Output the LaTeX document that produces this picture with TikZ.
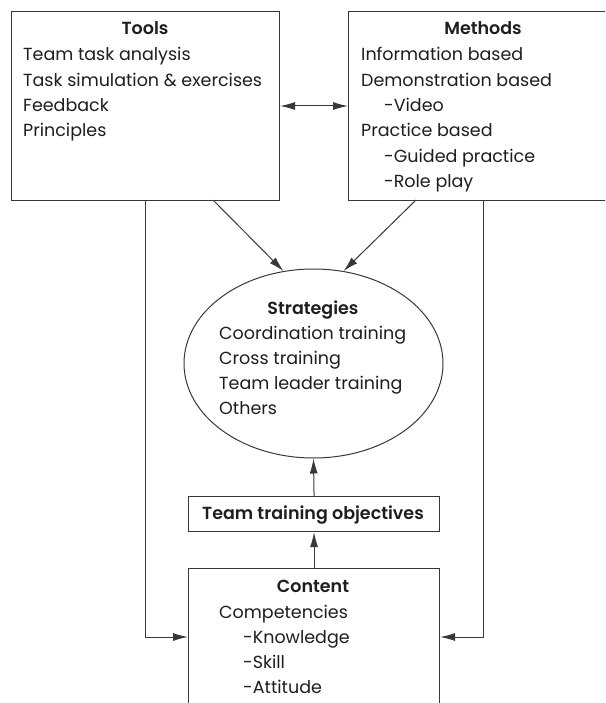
\documentclass[tikz,border=0pt]{standalone}
\usepackage{fontspec}
\setmainfont{Poppins}[BoldFont={Poppins SemiBold}]
\usetikzlibrary{arrows.meta,shapes.geometric}
\definecolor{ln}{HTML}{383838}
\definecolor{tx}{HTML}{1E1E1E}
\tikzset{
  boxshape/.style={draw=ln, line width=1.1pt, inner sep=0pt, rectangle},
  txt/.style={inner sep=0pt, anchor=base west, text=tx, font=\fontsize{17.5}{25}\selectfont},
  ttl/.style={inner sep=0pt, anchor=base, text=tx, font=\fontsize{17.5}{25}\selectfont\bfseries},
  conn/.style={draw=ln, line width=1pt, -{Latex[length=15pt,width=8pt]}},
  dconn/.style={draw=ln, line width=1pt, {Latex[length=15pt,width=8pt]}-{Latex[length=15pt,width=8pt]}},
}
\begin{document}
\begin{tikzpicture}[x=1pt,y=-1pt]
\clip (0,0) rectangle (605,703);
\fill[white] (0,0) rectangle (605,703);

% boxes
\node[boxshape, minimum width=268pt, minimum height=189pt, anchor=north west] (tools) at (11,11) {};
\node[boxshape, minimum width=270pt, minimum height=189pt, anchor=north west] (methods) at (348,11) {};
\node[draw=ln, line width=1pt, ellipse, inner sep=0pt, minimum width=259pt, minimum height=189pt] (strat) at (313.5,363.5) {};
\node[boxshape, minimum width=251pt, minimum height=35pt, anchor=north west] (obj) at (188,496) {};
\node[boxshape, minimum width=251pt, minimum height=160pt, anchor=north west] (content) at (188,568) {};

% Tools text
\node[ttl] (toolsT) at (145,35) {Tools};
\node[txt] (t1) at (23,61) {Team task analysis};
\node[txt] (t2) at (23,87) {Task simulation \& exercises};
\node[txt] (t3) at (23,112) {Feedback};
\node[txt] (t4) at (23,137) {Principles};

% Methods text
\node[ttl] (methodsT) at (483,35) {Methods};
\node[txt] (m1) at (361,61) {Information based};
\node[txt] (m2) at (361,87) {Demonstration based};
\node[txt] (m3) at (384,112) {-Video};
\node[txt] (m4) at (361,137) {Practice based};
\node[txt] (m5) at (384,163) {-Guided practice};
\node[txt] (m6) at (384,188) {-Role play};

% Strategies text
\node[ttl] (stratT) at (313,314) {Strategies};
\node[txt] (s1) at (219,339) {Coordination training};
\node[txt] (s2) at (219,364) {Cross training};
\node[txt] (s3) at (219,389) {Team leader training};
\node[txt] (s4) at (219,414) {Others};

% Objectives
\node[ttl] (objT) at (313,519.5) {Team training objectives};

% Content text
\node[ttl] (contentT) at (313,592) {Content};
\node[txt] (c1) at (219,618) {Competencies};
\node[txt] (c2) at (243,643) {-Knowledge};
\node[txt] (c3) at (243,668) {-Skill};
\node[txt] (c4) at (243,693) {-Attitude};

% connectors
\draw[dconn] (tools.east |- 0,106) -- (methods.west |- 0,106);
\coordinate (tA) at (213,200);
\coordinate (mA) at (416,200);
\draw[conn] (tA) -- (strat.108);
\draw[conn] (mA) -- (strat.72);
\draw[conn] (obj.north) -- (strat.south);
\draw[conn] (content.north) -- (obj.south);
\coordinate (tB) at (145,200);
\coordinate (mB) at (483,200);
\draw[conn] (tB) |- (content.west |- 0,637);
\draw[conn] (mB) |- (content.east |- 0,637);
\end{tikzpicture}
\end{document}
